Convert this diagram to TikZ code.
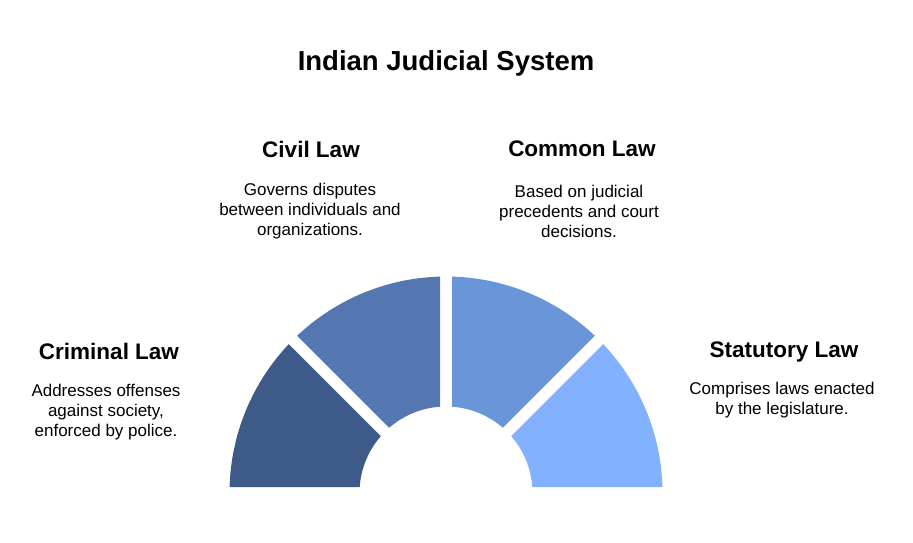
\documentclass[tikz,border=0pt]{standalone}
\usepackage{fontspec}
\setmainfont{Liberation Sans}
\usetikzlibrary{calc}
\definecolor{crim}{HTML}{3E5A89}
\definecolor{civ}{HTML}{5477B2}
\definecolor{comm}{HTML}{6995D9}
\definecolor{stat}{HTML}{82B1FF}
\tikzset{%
    ttl/.style={font=\fontsize{27.5}{32}\selectfont\bfseries},
    hd/.style={font=\fontsize{22.5}{26}\selectfont\bfseries},
    txt/.style={font=\fontsize{17}{20}\selectfont, align=center},
}
\begin{document}
\begin{tikzpicture}[x=1pt,y=1pt]
    \useasboundingbox (0,0) rectangle (913,542);
    \coordinate (C) at (446,49);
    \def\Ro{216.5} \def\Ri{86.5}
    \pgfmathsetmacro\dO{asin(6/\Ro)}
    \pgfmathsetmacro\dI{asin(6/\Ri)}
    \foreach \a/\b/\c in {135/180/crim, 90/135/civ, 45/90/comm, 0/45/stat}{
        \fill[\c] ($(C)+(\a+\dO:\Ro)$) arc[start angle=\a+\dO, end angle=\b-\dO, radius=\Ro]
            -- ($(C)+(\b-\dI:\Ri)$) arc[start angle=\b-\dI, end angle=\a+\dI, radius=\Ri] -- cycle;
    }
    \node[ttl] (title) at (446,479) {Indian Judicial System};
    \node[hd] (civh) at (311,393) {Civil Law};
    \node[txt] (civt) at (310,331) {Governs disputes\\between individuals and\\organizations.};
    \node[hd] (comh) at (582,393) {Common Law};
    \node[txt] (comt) at (579,331) {Based on judicial\\precedents and court\\decisions.};
    \node[hd] (crih) at (109,191) {Criminal Law};
    \node[txt] (crit) at (106,130) {Addresses offenses\\against society,\\enforced by police.};
    \node[hd] (stah) at (784,190) {Statutory Law};
    \node[txt] (stat) at (782,142) {Comprises laws enacted\\by the legislature.};
\end{tikzpicture}
\end{document}
